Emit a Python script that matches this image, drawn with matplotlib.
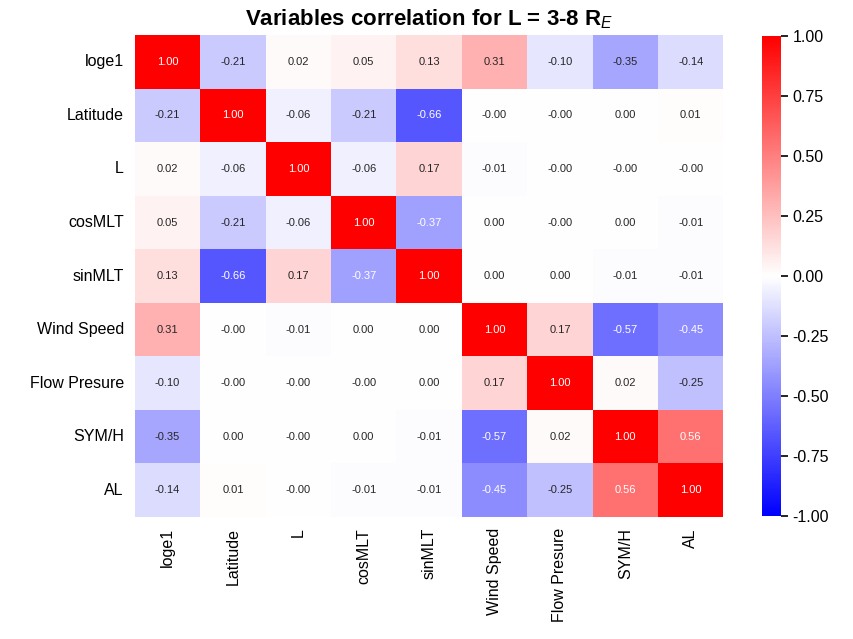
import numpy as np
import matplotlib
matplotlib.use("Agg")
import matplotlib.pyplot as plt
import seaborn as sns

labels = ["loge1", "Latitude", "L", "cosMLT", "sinMLT", "Wind Speed",
          "Flow Presure", "SYM/H", "AL"]

row_loge1 = [1.00, -0.21, 0.02, 0.05, 0.13, 0.31, -0.10, -0.35, -0.14]
row_lat   = [-0.21, 1.00, -0.06, -0.21, -0.66, -0.001, -0.001, 0.001, 0.01]
row_L     = [0.02, -0.06, 1.00, -0.06, 0.17, -0.01, -0.001, -0.001, -0.001]
row_cos   = [0.05, -0.21, -0.06, 1.00, -0.37, 0.001, -0.001, 0.001, -0.01]
row_sin   = [0.13, -0.66, 0.17, -0.37, 1.00, 0.001, 0.001, -0.01, -0.01]
row_wind  = [0.31, -0.001, -0.01, 0.001, 0.001, 1.00, 0.17, -0.57, -0.45]
row_flow  = [-0.10, -0.001, -0.001, -0.001, 0.001, 0.17, 1.00, 0.02, -0.25]
row_sym   = [-0.35, 0.001, -0.001, 0.001, -0.01, -0.57, 0.02, 1.00, 0.56]
row_al    = [-0.14, 0.01, -0.001, -0.01, -0.01, -0.45, -0.25, 0.56, 1.00]

corr = np.array([row_loge1, row_lat, row_L, row_cos, row_sin,
                 row_wind, row_flow, row_sym, row_al])

plt.rcParams['font.family'] = ['Liberation Sans', 'DejaVu Sans']
plt.rcParams['mathtext.fontset'] = 'custom'
plt.rcParams['mathtext.rm'] = 'Liberation Sans'
plt.rcParams['mathtext.it'] = 'Liberation Sans:italic'
plt.rcParams['mathtext.bf'] = 'Liberation Sans:bold'

fig = plt.figure(figsize=(8.54, 6.39), dpi=100)
ax = fig.add_axes([0.158, 0.191, 0.689, 0.754])
cax = fig.add_axes([0.892, 0.193, 0.022, 0.750])

sns.heatmap(corr, ax=ax, cbar_ax=cax, cmap="bwr", vmin=-1, vmax=1,
            annot=True, fmt=".2f", annot_kws={"size": 8},
            xticklabels=labels, yticklabels=labels)

ax.tick_params(axis='both', length=0, labelsize=11.5, pad=8)
ax.set_xticklabels(labels, rotation=90)
ax.set_yticklabels(labels, rotation=0)
ax.set_title(r"Variables correlation for L = 3-8 R$_E$", fontsize=16,
             fontweight='bold', pad=7)

cax.tick_params(labelsize=11.5, length=5, width=1.2)
cax.set_yticks([-1, -0.75, -0.5, -0.25, 0, 0.25, 0.5, 0.75, 1])
cax.set_yticklabels([f"{v:.2f}" for v in [-1, -0.75, -0.5, -0.25, 0, 0.25, 0.5, 0.75, 1]])

fig.savefig("out.png", dpi=100)
